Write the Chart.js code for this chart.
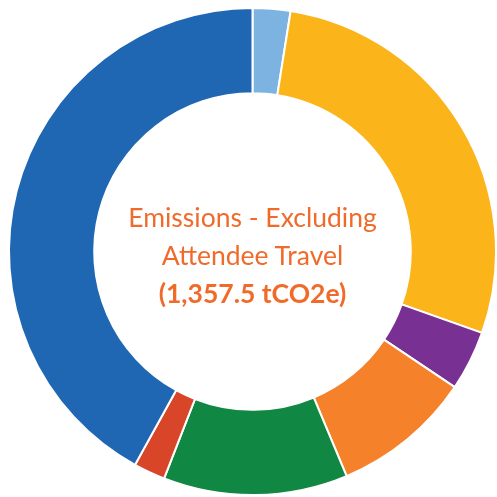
<!DOCTYPE html>
<html>
<head>
<meta charset="utf-8">
<script src="https://cdn.jsdelivr.net/npm/chart.js@4"></script>
<style>
  html, body { margin: 0; padding: 0; background: #fff; }
  #wrap { position: relative; width: 497px; height: 497px; }
  #center {
    position: absolute; left: 0; top: 6px; width: 505px; height: 497px;
    display: flex; flex-direction: column; align-items: center; justify-content: center;
    font-family: Lato, sans-serif; color: #f06b2a; font-size: 26.5px; line-height: 38px;
    text-align: center; pointer-events: none;
  }
  #center b { font-weight: 700; }
</style>
</head>
<body>
<div id="wrap">
  <canvas id="myChart" width="497" height="497"></canvas>
  <div id="center">
    <div>Emissions - Excluding</div>
    <div>Attendee Travel</div>
    <div><b>(1,357.5 tCO2e)</b></div>
  </div>
</div>
<script>
const categories = ['Category A', 'Category B', 'Category C', 'Category D', 'Category E', 'Category F', 'Category G'];
const emissions = [34, 379, 54, 126, 166, 28.5, 570];
const colors = ['#7db3e1', '#fbb419', '#783192', '#f5822b', '#108843', '#d84528', '#1f67b3'];

const ctx = document.getElementById('myChart');

new Chart(ctx, {
  type: 'doughnut',
  data: {
    labels: categories,
    datasets: [{
      data: emissions,
      backgroundColor: colors,
      borderColor: '#ffffff',
      borderWidth: 2
    }]
  },
  options: {
    responsive: false,
    animation: false,
    cutout: '65%',
    layout: {
      padding: { left: 8, right: 0, top: 7, bottom: 1 }
    },
    plugins: {
      legend: { display: false },
      tooltip: { enabled: false }
    }
  }
});
</script>
</body>
</html>
